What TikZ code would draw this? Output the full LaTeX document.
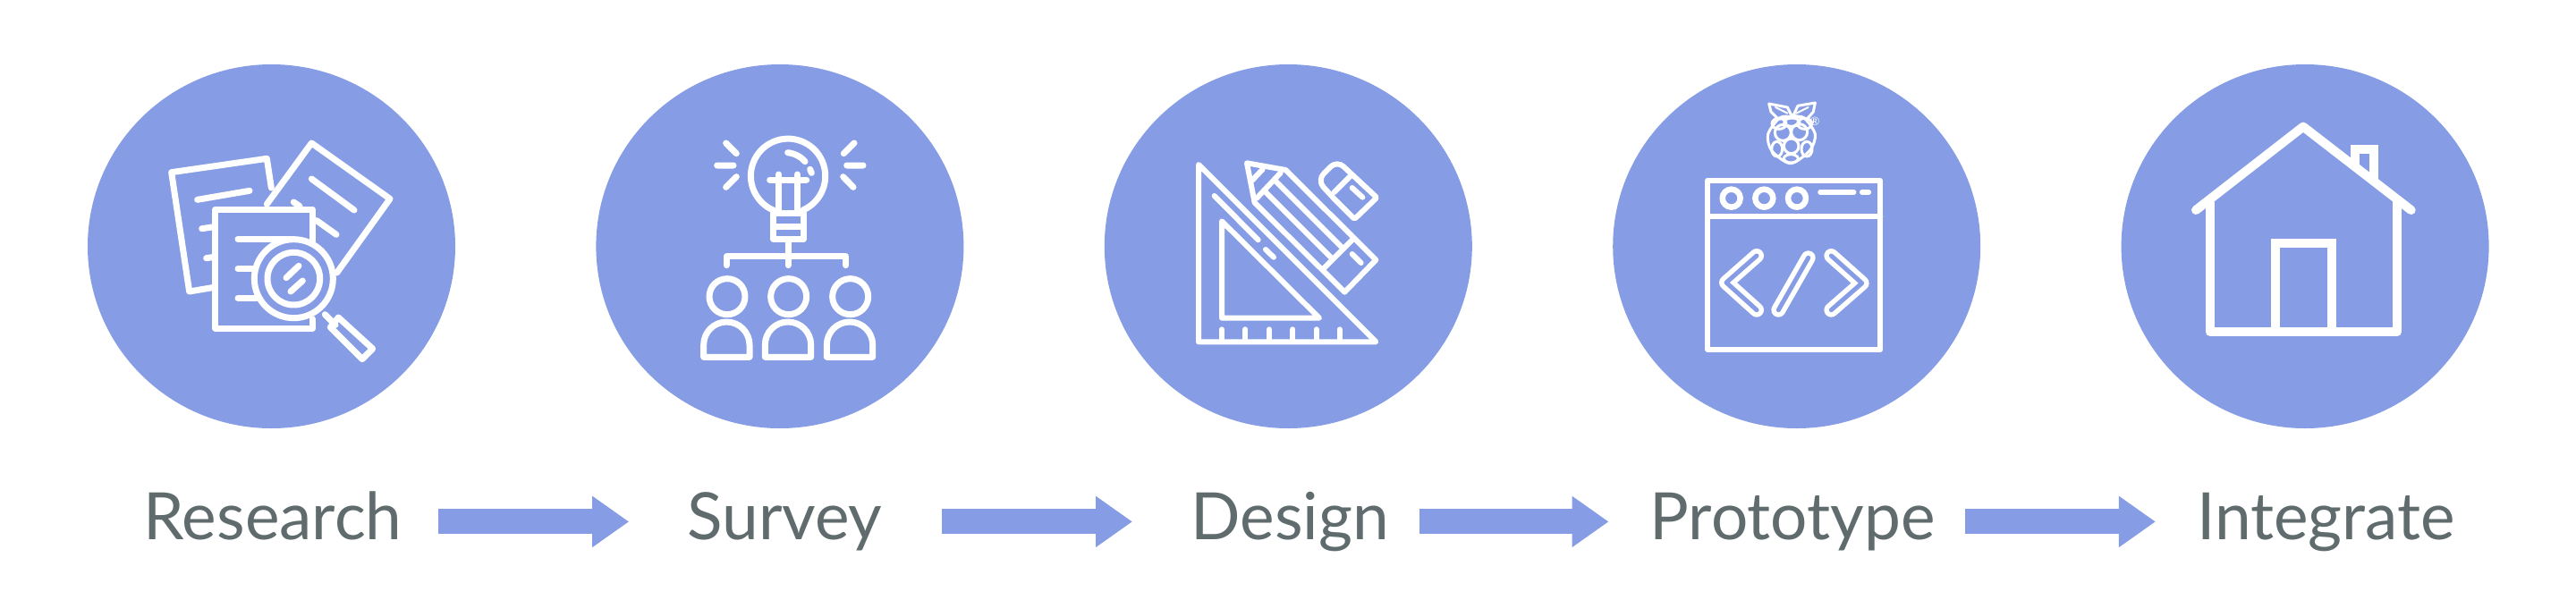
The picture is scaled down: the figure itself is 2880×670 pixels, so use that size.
\documentclass[tikz,border=0pt]{standalone}
\usepackage{fontspec}
\setmainfont{Lato}
\usetikzlibrary{positioning,arrows.meta,shapes.geometric}
\definecolor{stepblue}{HTML}{869DE5}
\definecolor{labelgrey}{HTML}{5F6B6D}
\begin{document}
\begin{tikzpicture}[
        x=1pt, y=-1pt,
        stepcirc/.style={ellipse, fill=stepblue, minimum width=411pt, minimum height=407pt, inner sep=0pt},
        steplabel/.style={text=labelgrey, font=\fontsize{73}{80}\selectfont, inner sep=0pt, text height=54pt, text depth=14pt},
        flowarrow/.style={draw=stepblue, line width=28pt, -{Triangle[length=41pt,width=54.5pt,fill=stepblue]}},
        iconline/.style={draw=white, line width=#1, line cap=round, line join=round},
        iconline/.default=7pt,
        outlined/.style={draw=white, line width=5.5pt, double=stepblue, double distance=5pt, line cap=round, line join=round},
    ]
    \useasboundingbox (0,0) rectangle (2880,670);

    \node[stepcirc](research) at (303.5,275.5){};
    \node[stepcirc, right=157pt of research](survey){};
    \node[stepcirc, right=157pt of survey](design){};
    \node[stepcirc, right=157pt of design](prototype){};
    \node[stepcirc, right=157pt of prototype](integrate){};

    \node[steplabel, below=70pt of research, xshift=1.5pt](researchlbl){Research};
    \node[steplabel, below=70pt of survey, xshift=5.5pt](surveylbl){Survey};
    \node[steplabel, below=70pt of design, xshift=2pt](designlbl){Design};
    \node[steplabel, below=70pt of prototype, xshift=-4.5pt](prototypelbl){Prototype};
    \node[steplabel, below=70pt of integrate, xshift=23.5pt](integratelbl){Integrate};

    \foreach \from/\to/\gapa/\gapb in {researchlbl/surveylbl/40/65, surveylbl/designlbl/66/65.4, designlbl/prototypelbl/33.4/46, prototypelbl/integratelbl/33/46}
        \draw[flowarrow, shorten <=\gapa pt, shorten >=\gapb pt] (\from.east) -- (\to.west);

    \begin{scope}[shift={(80,60)}, scale=1/3]
        \draw[iconline] (472,785) -- (395,798) -- (335,398) -- (655,352) -- (670,450);
        \draw[iconline] (655,505) -- (805,300) -- (1068,487) -- (890,735);
        \draw[iconline] (805,420) -- (948,525) (822,560) -- (888,607) (745,498) -- (765,512);
        \draw[iconline] (422,490) -- (597,460) (437,587) -- (472,582) (452,686) -- (472,683);
        \draw[iconline] (808,630) -- (808,522) -- (482,522) -- (482,922) -- (808,922) -- (808,890);
        \draw[iconline] (558,622) -- (740,622) (558,722) -- (605,722) (558,820) -- (620,820);
        \draw[iconline] (745,755) circle[radius=132];
        \draw[iconline] (745,755) circle[radius=88];
        \draw[iconline] (720,752) -- (762,712) (735,798) -- (775,762);
        \draw[iconline] (850,875) -- (885,910);
        \draw[iconline] (895,885) -- (1010,990) -- (975,1025) -- (868,918) -- cycle;
    \end{scope}

    \begin{scope}[shift={(650,60)}, scale=1/3]
        \draw[iconline] (743,525) arc[start angle=66.5, end angle=-246.5, radius=125];
        \draw[iconline] (692,332) .. controls (720,335) and (740,350) .. (750,362) (767,388) -- (772,400);
        \draw[iconline] (632,423) -- (755,423) (662,405) -- (662,525) (725,405) -- (725,525);
        \draw[iconline] (643,535) rectangle (745,622) (643,580) -- (745,580);
        \draw[iconline] (693,622) -- (693,710) (487,710) -- (487,680) -- (887,680) -- (887,710);
        \foreach \cx in {487,693,900} {
            \draw[iconline] (\cx+2,815) circle[radius=60];
            \draw[iconline] (\cx-77,1018) -- (\cx-77,977) arc[start angle=180, end angle=360, radius=77] -- (\cx+77,1018) -- cycle;
        }
        \draw[iconline] (485,300) -- (520,335) (455,375) -- (510,375) (485,448) -- (520,413);
        \draw[iconline] (915,300) -- (880,335) (945,375) -- (890,375) (912,448) -- (878,413);
    \end{scope}

    \begin{scope}[shift={(1220,60)}, scale=1/3]
        \draw[iconline=6pt] (360,372) -- (360,967) -- (955,967) -- cycle;
        \draw[iconline=6pt] (438,562) -- (438,887) -- (765,887) -- cycle;
        \foreach \tx in {438,517,597,676,755,833}
            \draw[iconline=6pt] (\tx,925) -- (\tx,960);
        \draw[iconline=6pt] (413,477) -- (560,625) (585,657) -- (612,683);
        \draw[iconline=6pt] (522,367) -- (652,390) -- (955,692) -- (850,800) -- (548,500) -- cycle;
        \draw[iconline=6pt] (555,485) -- (635,400) (540,425) -- (575,388);
        \draw[iconline=6pt] (584,464) -- (810,690) (619,428) -- (845,654) (881,619) -- (775,725);
        \draw[iconline=6pt] (875,672) -- (905,702);
        \draw[iconline=6pt] (815,487) [rounded corners=10pt] -- (758,425) -- (824,358) [rounded corners=2pt] -- (958,483) -- (883,555) -- cycle;
        \draw[iconline=6pt] (815,465) -- (870,410) (875,450) -- (910,482);
    \end{scope}

    \begin{scope}[shift={(1790,60)}, scale=1/3]
        \draw[iconline=3pt] (563,168) -- (625,180) -- (640,210) -- (595,220) -- (570,195) -- cycle;
        \draw[iconline=3pt] (718,165) -- (660,175) -- (645,207) -- (690,220) -- (712,195) -- cycle;
        \draw[iconline=2pt] (585,180) -- (625,200) (695,180) -- (655,200);
        \draw[iconline=3pt] plot[smooth cycle] coordinates {(600,215) (560,270) (572,325) (635,368) (700,325) (718,270) (680,215) (640,212)};
        \draw[iconline=3pt] (610,265) circle[radius=27] (665,263) circle[radius=27] (638,310) circle[radius=25];
        \draw[iconline=3pt] (640,230) ellipse[x radius=26, y radius=14] (597,235) ellipse[x radius=24, y radius=18] (683,235) ellipse[x radius=24, y radius=18];
        \draw[iconline=3pt] (590,320) ellipse[x radius=18, y radius=25] (690,320) ellipse[x radius=18, y radius=25] (637,352) ellipse[x radius=24, y radius=14];
        \node[text=white, font=\fontsize{13}{13}\selectfont, inner sep=0pt](regmark) at (717,227){®};
        \draw[iconline=6pt] (358,425) rectangle (937,993) (358,545) -- (937,545);
        \foreach \wx in {437,547,657}
            \draw[iconline=6.5pt] (\wx,485) circle[radius=30];
        \draw[iconline=5.5pt] (735,465) -- (848,465) (875,465) -- (898,465);
        \draw[outlined] (522,678) -- (420,768) -- (522,860);
        \draw[outlined] (695,685) -- (595,860);
        \draw[outlined] (772,678) -- (875,770) -- (772,860);
    \end{scope}

    \begin{scope}[shift={(2360,60)}, scale=1/3]
        \draw[iconline=10pt, line cap=butt, line join=miter] (818,375) -- (818,320) -- (882,320) -- (882,425);
        \draw[iconline=10pt] (332,500) -- (332,933) -- (960,933) -- (960,500);
        \draw[iconline=10pt] (285,525) -- (645,245) -- (1007,525);
        \draw[iconline=10pt, line cap=butt, line join=miter] (551,933) -- (551,635) -- (740,635) -- (740,933);
    \end{scope}

\end{tikzpicture}
\end{document}
